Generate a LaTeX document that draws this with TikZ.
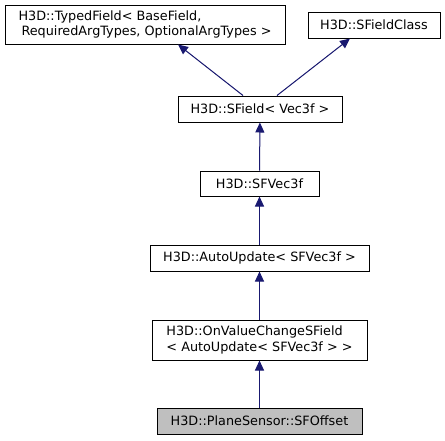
\documentclass[tikz,border=0pt]{standalone}
\usepackage{fontspec}
\setmainfont{DejaVu Sans}
\usetikzlibrary{arrows.meta}

\definecolor{edgeblue}{HTML}{191970}
\definecolor{cellgray}{HTML}{BFBFBF}

\begin{document}
\begin{tikzpicture}[x=1pt, y=-1pt,
  main/.style = {draw=black, fill=white, rectangle, line width=1pt, inner sep=0pt, font=\fontsize{12.8}{15.5}\selectfont},
  edge/.style = {-{Triangle[length=10pt,width=9pt]}, draw=edgeblue, fill=edgeblue, line width=1pt}]
\useasboundingbox (0,0) rectangle (445,440);
\node[main, minimum width=280pt, minimum height=39pt, align=left] (typed) at (145,24.5) {H3D::TypedField< BaseField,\\\hspace*{3pt}RequiredArgTypes, OptionalArgTypes >};
\node[main, minimum width=132pt, minimum height=26pt] (cls) at (374,25) {H3D::SFieldClass};
\node[main, minimum width=164pt, minimum height=26pt] (sfield) at (260,109) {H3D::SField< Vec3f >};
\node[main, minimum width=119pt, minimum height=25pt] (sfvec) at (259.5,183.5) {H3D::SFVec3f};
\node[main, minimum width=219pt, minimum height=26pt] (auto) at (259.5,258) {H3D::AutoUpdate< SFVec3f >};
\node[main, minimum width=215pt, minimum height=40pt, align=left] (onvalue) at (259.5,340) {H3D::OnValueChangeSField\\< AutoUpdate< SFVec3f > >};
\node[main, fill=cellgray, minimum width=205pt, minimum height=26pt] (offset) at (259.5,421) {H3D::PlaneSensor::SFOffset};
\draw[edge] ([xshift=-17pt]sfield.north) -- ([xshift=33pt]typed.south);
\draw[edge] ([xshift=17pt]sfield.north) -- ([xshift=-24pt]cls.south);
\draw[edge] (sfvec) -- (sfield);
\draw[edge] (auto) -- (sfvec);
\draw[edge] (onvalue) -- (auto);
\draw[edge] (offset) -- (onvalue);
\end{tikzpicture}
\end{document}
